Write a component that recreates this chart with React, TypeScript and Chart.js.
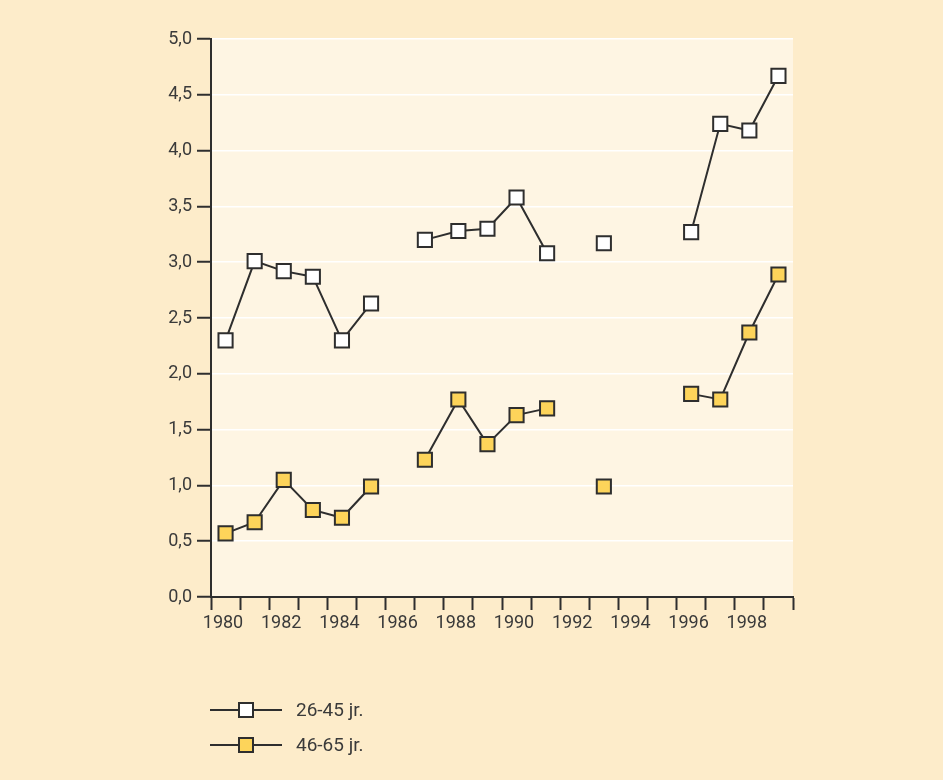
import React, { useEffect, useRef } from "react";
import { Chart, registerables } from "chart.js";

Chart.register(...registerables);

// x positions (year + position within year); null entries mark gaps
const xPositions: number[] = [
  1980.5, 1981.5, 1982.5, 1983.5, 1984.5, 1985.5, 1986.5, 1987.35, 1988.5, 1989.5,
  1990.5, 1991.55, 1992.5, 1993.5, 1994.5, 1995.5, 1996.5, 1997.5, 1998.5, 1999.5,
];
const series26to45: (number | null)[] = [
  2.3, 3.01, 2.92, 2.87, 2.3, 2.63, null, 3.2, 3.28, 3.3,
  3.58, 3.08, null, 3.17, null, null, 3.27, 4.24, 4.18, 4.67,
];
const series46to65: (number | null)[] = [
  0.57, 0.67, 1.05, 0.78, 0.71, 0.99, null, 1.23, 1.77, 1.37,
  1.63, 1.69, null, 0.99, null, null, 1.82, 1.77, 2.37, 2.89,
];
const seriesLabels = ["26-45 jr.", "46-65 jr."];
const seriesFills = ["#ffffff", "#fdd45a"];
const xTickLabels = ["1980", "1982", "1984", "1986", "1988", "1990", "1992", "1994", "1996", "1998"];

const OUTER_BG = "#fdecca";
const PLOT_BG = "#fef5e3";
const INK = "#2e2e2e";
const FONT = "Roboto, 'Liberation Sans', sans-serif";

export default function App() {
  const ref = useRef<HTMLCanvasElement | null>(null);

  useEffect(() => {
    if (!ref.current) return;
    const toPoints = (vals: (number | null)[]) =>
      xPositions.map((x, i) => ({ x, y: vals[i] }));

    const plotBg = {
      id: "plotBg",
      beforeDraw(chart: any) {
        const { ctx, chartArea } = chart;
        ctx.save();
        ctx.fillStyle = PLOT_BG;
        ctx.fillRect(chartArea.left, chartArea.top, chartArea.right - chartArea.left, chartArea.bottom - chartArea.top);
        ctx.restore();
      },
    };

    const customLegend = {
      id: "customLegend",
      afterDraw(chart: any) {
        const { ctx } = chart;
        ctx.save();
        chart.data.datasets.forEach((ds: any, i: number) => {
          const y = 710 + i * 35;
          ctx.strokeStyle = INK;
          ctx.lineWidth = 2;
          ctx.beginPath();
          ctx.moveTo(210, y);
          ctx.lineTo(282, y);
          ctx.stroke();
          ctx.fillStyle = ds.pointBackgroundColor;
          ctx.fillRect(239, y - 7, 14, 14);
          ctx.strokeRect(239, y - 7, 14, 14);
          ctx.fillStyle = "#3a3a3a";
          ctx.font = `19px ${FONT}`;
          ctx.textBaseline = "middle";
          ctx.textAlign = "left";
          ctx.fillText(ds.label, 296, y + 1);
        });
        ctx.restore();
      },
    };

    const mkDataset = (label: string, vals: (number | null)[], fill: string) => ({
      label,
      data: toPoints(vals),
      borderColor: INK,
      borderWidth: 2,
      pointStyle: "rect",
      pointRadius: 10,
      pointHoverRadius: 10,
      pointBackgroundColor: fill,
      pointBorderColor: INK,
      pointBorderWidth: 2,
      spanGaps: false,
      tension: 0,
    });

    const chart = new Chart(ref.current, {
      type: "line",
      data: {
        datasets: [
          mkDataset(seriesLabels[0], series26to45, seriesFills[0]),
          mkDataset(seriesLabels[1], series46to65, seriesFills[1]),
        ],
      },
      options: {
        animation: false,
        responsive: false,
        layout: { padding: { left: 0, top: 39, right: 150, bottom: 123 } },
        plugins: { legend: { display: false }, tooltip: { enabled: false } },
        scales: {
          x: {
            type: "linear",
            min: 1980,
            max: 2000,
            afterFit: (s: any) => { s.height = 60; },
            ticks: {
              stepSize: 1,
              autoSkip: false,
              maxRotation: 0,
              labelOffset: 12,
              padding: 3,
              color: "#3a3a3a",
              font: { family: FONT, size: 18 },
              callback: (v: any) => {
                const s = String(v);
                return xTickLabels.includes(s) ? s : "";
              },
            },
            grid: { drawOnChartArea: false, tickColor: INK, tickLength: 13, tickWidth: 2 },
            border: { color: INK, width: 2 },
          },
          y: {
            min: 0,
            max: 5,
            afterFit: (s: any) => { s.width = 211; },
            ticks: {
              stepSize: 0.5,
              padding: 5,
              color: "#3a3a3a",
              font: { family: FONT, size: 18 },
              callback: (v: any) => Number(v).toFixed(1).replace(".", ","),
            },
            grid: { color: "#ffffff", lineWidth: 1.5, tickColor: INK, tickLength: 14, tickWidth: 2 },
            border: { color: INK, width: 2 },
          },
        },
      },
      plugins: [plotBg, customLegend],
    } as any);
    return () => chart.destroy();
  }, []);

  return (
    <div style={{ position: "absolute", left: 0, top: 0, width: 943, height: 780, background: OUTER_BG }}>
      <canvas ref={ref} width={943} height={780} style={{ display: "block" }} />
    </div>
  );
}
